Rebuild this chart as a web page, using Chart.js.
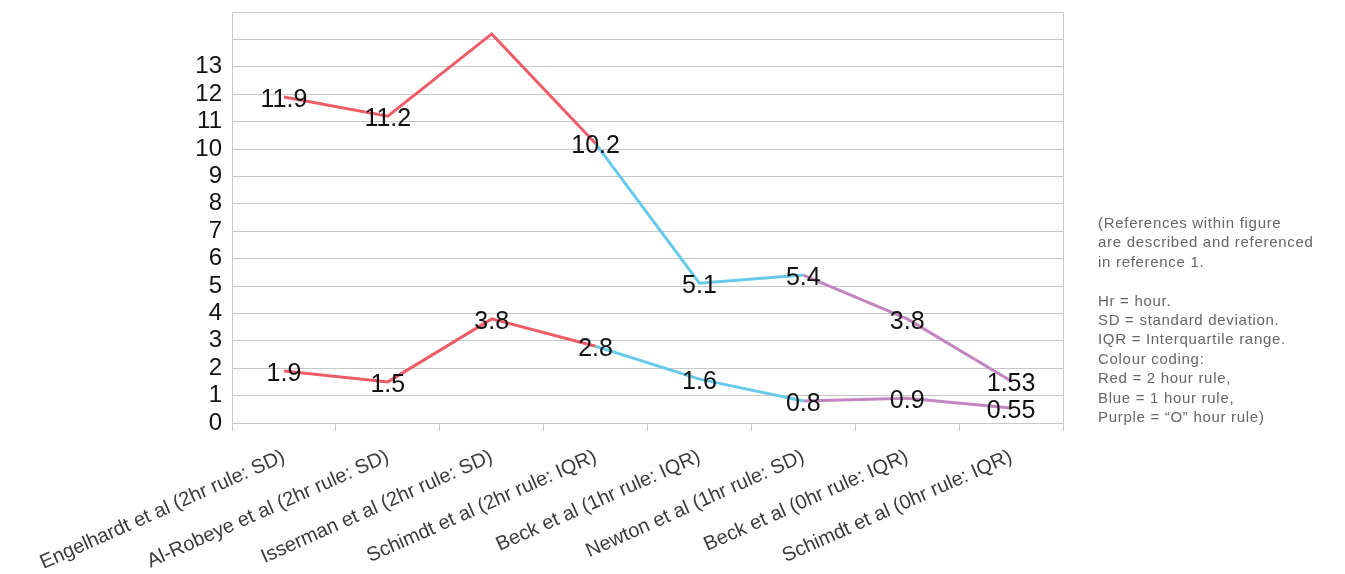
<!DOCTYPE html>
<html>
<head>
<meta charset="utf-8">
<script src="https://cdn.jsdelivr.net/npm/chart.js@4"></script>
<style>
  html, body { margin:0; padding:0; background:#fff; }
  #wrap { position:relative; width:1345px; height:574px; }
  canvas { position:absolute; left:0; top:0; }
  #note { position:absolute; left:1098px; top:213px; font-family:"Liberation Sans", Arial, sans-serif;
          font-size:15px; line-height:19.4px; letter-spacing:0.7px; color:#666; white-space:pre; }
</style>
</head>
<body>
<div id="wrap">
<canvas id="c" width="1345" height="574"></canvas>
<div id="note">(References within figure
are described and referenced
in reference 1.

Hr = hour.
SD = standard deviation.
IQR = Interquartile range.
Colour coding:
Red = 2 hour rule,
Blue = 1 hour rule,
Purple = “O” hour rule)</div>
</div>
<script>
const categories = [
  'Engelhardt et al (2hr rule: SD)',
  'Al-Robeye et al (2hr rule: SD)',
  'Isserman et al (2hr rule: SD)',
  'Schimdt et al (2hr rule: IQR)',
  'Beck et al (1hr rule: IQR)',
  'Newton et al (1hr rule: SD)',
  'Beck et al (0hr rule: IQR)',
  'Schimdt et al (0hr rule: IQR)'
];
const rules = ['2hr','2hr','2hr','2hr','1hr','1hr','0hr','0hr'];
const upperValues = [11.9, 11.2, 14.2, 10.2, 5.1, 5.4, 3.8, 1.53];
const upperLabels = ['11.9','11.2','','10.2','5.1','5.4','3.8','1.53'];
const lowerValues = [1.9, 1.5, 3.8, 2.8, 1.6, 0.8, 0.9, 0.55];
const lowerLabels = ['1.9','1.5','3.8','2.8','1.6','0.8','0.9','0.55'];
const yTickMax = 13;

const ruleColors = { '2hr':'#EE5D67', '1hr':'#68CAEA', '0hr':'#C285C1' };
const segColor = ctx => ruleColors[rules[ctx.p1DataIndex]];

const FONT = '"Liberation Sans", Arial, sans-serif';

const labelPlugin = {
  id: 'valueLabels',
  afterDatasetsDraw(chart) {
    const ctx = chart.ctx;
    ctx.save();
    ctx.font = '25px ' + FONT;
    ctx.fillStyle = '#111';
    ctx.textAlign = 'center';
    ctx.textBaseline = 'middle';
    chart.data.datasets.forEach((ds, di) => {
      const meta = chart.getDatasetMeta(di);
      meta.data.forEach((pt, i) => {
        const t = ds.valueLabels[i];
        if (t) ctx.fillText(t, pt.x, pt.y + 3);
      });
    });
    ctx.restore();
  }
};

const borderPlugin = {
  id: 'rightBorder',
  beforeDatasetsDraw(chart) {
    const a = chart.chartArea, ctx = chart.ctx;
    ctx.save();
    ctx.strokeStyle = '#c8c8c8';
    ctx.lineWidth = 1;
    ctx.beginPath();
    ctx.moveTo(Math.round(a.right) + 0.5, a.top);
    ctx.lineTo(Math.round(a.right) + 0.5, a.bottom);
    ctx.stroke();
    ctx.restore();
  }
};

new Chart(document.getElementById('c'), {
  type: 'line',
  data: {
    labels: categories,
    datasets: [
      { data: upperValues, valueLabels: upperLabels, borderWidth: 3, pointRadius: 0,
        borderColor: '#EE5D67', segment: { borderColor: segColor }, tension: 0 },
      { data: lowerValues, valueLabels: lowerLabels, borderWidth: 3, pointRadius: 0,
        borderColor: '#EE5D67', segment: { borderColor: segColor }, tension: 0 }
    ]
  },
  options: {
    responsive: false,
    animation: false,
    devicePixelRatio: 1,
    layout: { padding: { top: 12, right: 282, left: 0, bottom: 0 } },
    plugins: { legend: { display: false }, tooltip: { enabled: false } },
    scales: {
      y: {
        min: 0, max: 15,
        ticks: { stepSize: 1, autoSkip: false, color: '#111', font: { size: 24, family: FONT }, padding: 10,
                 callback: v => (v <= yTickMax ? String(v) : '') },
        grid: { color: '#c8c8c8', lineWidth: 1, drawTicks: false },
        border: { color: '#c8c8c8' },
        afterFit(s) { s.width = 232; s.paddingTop = 0; s.paddingBottom = 0; }
      },
      x: {
        offset: true,
        ticks: { color: '#3a3a3a', font: { size: 20, family: FONT }, minRotation: 24, maxRotation: 24, autoSkip: false, padding: 14 },
        grid: { offset: true, drawOnChartArea: false, drawTicks: true, tickLength: 8, color: '#c8c8c8' },
        border: { color: '#c8c8c8' },
        afterFit(s) { s.height = 151; s.paddingLeft = 0; s.paddingRight = 0; }
      }
    }
  },
  plugins: [labelPlugin, borderPlugin]
});
</script>
</body>
</html>
